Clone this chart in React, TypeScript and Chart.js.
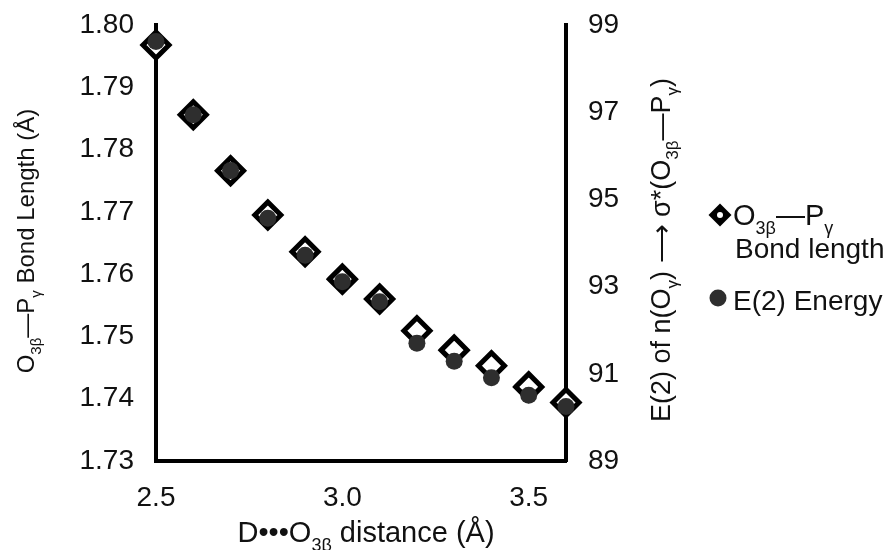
import React, { useEffect, useRef } from "react";
import { Chart, registerables } from "chart.js";

Chart.register(...registerables);

// ---- data ----
const distances = [2.5, 2.6, 2.7, 2.8, 2.9, 3.0, 3.1, 3.2, 3.3, 3.4, 3.5, 3.6];
const bondLength = [1.7968, 1.7856, 1.7766, 1.7695, 1.7636, 1.7592, 1.756, 1.7509, 1.7478, 1.7453, 1.7419, 1.7394];
const e2Energy = [98.62, 96.94, 95.66, 94.57, 93.72, 93.11, 92.65, 91.7, 91.29, 90.91, 90.51, 90.25];
const xTicks = [2.5, 3.0, 3.5];
const leftTicks = [1.73, 1.74, 1.75, 1.76, 1.77, 1.78, 1.79, 1.8];
const rightTicks = [89, 91, 93, 95, 97, 99];

type Seg = [string, boolean];
const leftTitle: Seg[] = [["O", false], ["3β", true], ["—P", false], ["γ", true], [" Bond Length (Å)", false]];
const rightTitle: Seg[] = [["E(2) of n(O", false], ["γ", true], [") ⟶ σ*(O", false], ["3β", true], ["—P", false], ["γ", true], [")", false]];
const xTitle: Seg[] = [["D•••O", false], ["3β", true], [" distance (Å)", false]];
const legend1a: Seg[] = [["O", false], ["3β", true], ["—P", false], ["γ", true]];
const legend1b: Seg[] = [["Bond length", false]];
const legend2: Seg[] = [["E(2) Energy", false]];

const FONT = "'Liberation Sans', Arial, sans-serif";
const TEXT = "#111";
const CIRCLE = "#2e2e2e";

function segWidth(ctx: CanvasRenderingContext2D, segs: Seg[], fs: number) {
  let w = 0;
  for (const [t, sub] of segs) {
    ctx.font = `${sub ? Math.round(fs * 0.62) : fs}px ${FONT}`;
    w += ctx.measureText(t).width;
  }
  return w;
}

function drawRich(
  ctx: CanvasRenderingContext2D,
  segs: Seg[],
  x: number,
  y: number,
  fs: number,
  rot: number,
  align: "center" | "left"
) {
  ctx.save();
  ctx.translate(x, y);
  ctx.rotate(rot);
  ctx.fillStyle = TEXT;
  ctx.textBaseline = "alphabetic";
  ctx.textAlign = "left";
  const total = segWidth(ctx, segs, fs);
  let cx = align === "center" ? -total / 2 : 0;
  for (const [t, sub] of segs) {
    ctx.font = `${sub ? Math.round(fs * 0.62) : fs}px ${FONT}`;
    ctx.fillText(t, cx, sub ? fs * 0.3 : 0);
    cx += ctx.measureText(t).width;
  }
  ctx.restore();
}

const decorPlugin = {
  id: "decor",
  afterDraw(chart: any) {
    const ctx: CanvasRenderingContext2D = chart.ctx;
    drawRich(ctx, leftTitle, 34, 241, 24, -Math.PI / 2, "center");
    drawRich(ctx, rightTitle, 670, 250, 27, -Math.PI / 2, "center");
    drawRich(ctx, xTitle, 366, 542, 29, 0, "center");

    // legend markers
    ctx.save();
    ctx.fillStyle = "#000";
    ctx.beginPath();
    const dx = 720, dy = 215, h = 11.5;
    ctx.moveTo(dx - h, dy);
    ctx.lineTo(dx, dy - h);
    ctx.lineTo(dx + h, dy);
    ctx.lineTo(dx, dy + h);
    ctx.closePath();
    ctx.fill();
    ctx.fillStyle = "#fff";
    ctx.beginPath();
    ctx.arc(dx, dy, 3, 0, Math.PI * 2);
    ctx.fill();
    ctx.fillStyle = CIRCLE;
    ctx.beginPath();
    ctx.arc(718, 298, 8.5, 0, Math.PI * 2);
    ctx.fill();
    ctx.restore();
    drawRich(ctx, legend1a, 733, 225, 29, 0, "left");
    drawRich(ctx, legend1b, 735, 258, 28, 0, "left");
    drawRich(ctx, legend2, 733, 310, 28, 0, "left");
  },
};

const zeroPad = (s: any) => {
  s.paddingTop = 0;
  s.paddingBottom = 0;
  s.paddingLeft = 0;
  s.paddingRight = 0;
};

export default function App() {
  const ref = useRef<HTMLCanvasElement>(null);
  useEffect(() => {
    if (!ref.current) return;
    const tickFont = { family: FONT, size: 28 };
    const chart = new Chart(ref.current, {
      type: "scatter",
      data: {
        datasets: [
          {
            label: "O3β—Pγ Bond length",
            data: distances.map((d, i) => ({ x: d, y: bondLength[i] })),
            yAxisID: "y",
            pointStyle: "rectRot",
            pointRadius: 13,
            pointBorderWidth: 5,
            pointBorderColor: "#000",
            pointBackgroundColor: "#fff",
            showLine: false,
            order: 2,
            clip: false,
          } as any,
          {
            label: "E(2) Energy",
            data: distances.map((d, i) => ({ x: d, y: e2Energy[i] })),
            yAxisID: "y2",
            pointStyle: "circle",
            pointRadius: 8.5,
            pointBorderWidth: 0,
            pointBackgroundColor: CIRCLE,
            showLine: false,
            order: 1,
            clip: false,
          } as any,
        ],
      },
      options: {
        animation: false,
        responsive: false,
        layout: { padding: { top: 25, left: 0, right: 0, bottom: 0 } },
        plugins: { legend: { display: false }, tooltip: { enabled: false } },
        scales: {
          x: {
            type: "linear",
            min: 2.5,
            max: 3.6,
            afterBuildTicks: (s: any) => {
              s.ticks = xTicks.map((v) => ({ value: v }));
            },
            afterFit: (s: any) => {
              s.height = 89;
              zeroPad(s);
            },
            ticks: {
              font: tickFont,
              color: TEXT,
              padding: 20,
              maxRotation: 0,
              autoSkip: false,
              callback: (v: any) => Number(v).toFixed(1),
            },
            grid: { display: false, drawTicks: false },
            border: { display: true, width: 4, color: "#000" },
          },
          y: {
            type: "linear",
            position: "left",
            min: 1.73,
            max: 1.8,
            afterBuildTicks: (s: any) => {
              s.ticks = leftTicks.map((v) => ({ value: v }));
            },
            afterFit: (s: any) => {
              s.width = 156;
              zeroPad(s);
            },
            ticks: {
              font: tickFont,
              color: TEXT,
              padding: 22,
              autoSkip: false,
              callback: (v: any) => Number(v).toFixed(2),
            },
            grid: { display: false, drawTicks: false },
            border: { display: true, width: 4, color: "#000" },
          },
          y2: {
            type: "linear",
            position: "right",
            min: 89,
            max: 99,
            afterBuildTicks: (s: any) => {
              s.ticks = rightTicks.map((v) => ({ value: v }));
            },
            afterFit: (s: any) => {
              s.width = 324;
              zeroPad(s);
            },
            ticks: {
              font: tickFont,
              color: TEXT,
              padding: 22,
              autoSkip: false,
              callback: (v: any) => String(v),
            },
            grid: { display: false, drawTicks: false },
            border: { display: true, width: 4, color: "#000" },
          },
        },
      },
      plugins: [decorPlugin],
    });
    return () => chart.destroy();
  }, []);
  return (
    <div style={{ position: "fixed", left: 0, top: 0, width: 890, height: 550, background: "#fff" }}>
      <canvas ref={ref} width={890} height={550} style={{ width: 890, height: 550 }} />
    </div>
  );
}
